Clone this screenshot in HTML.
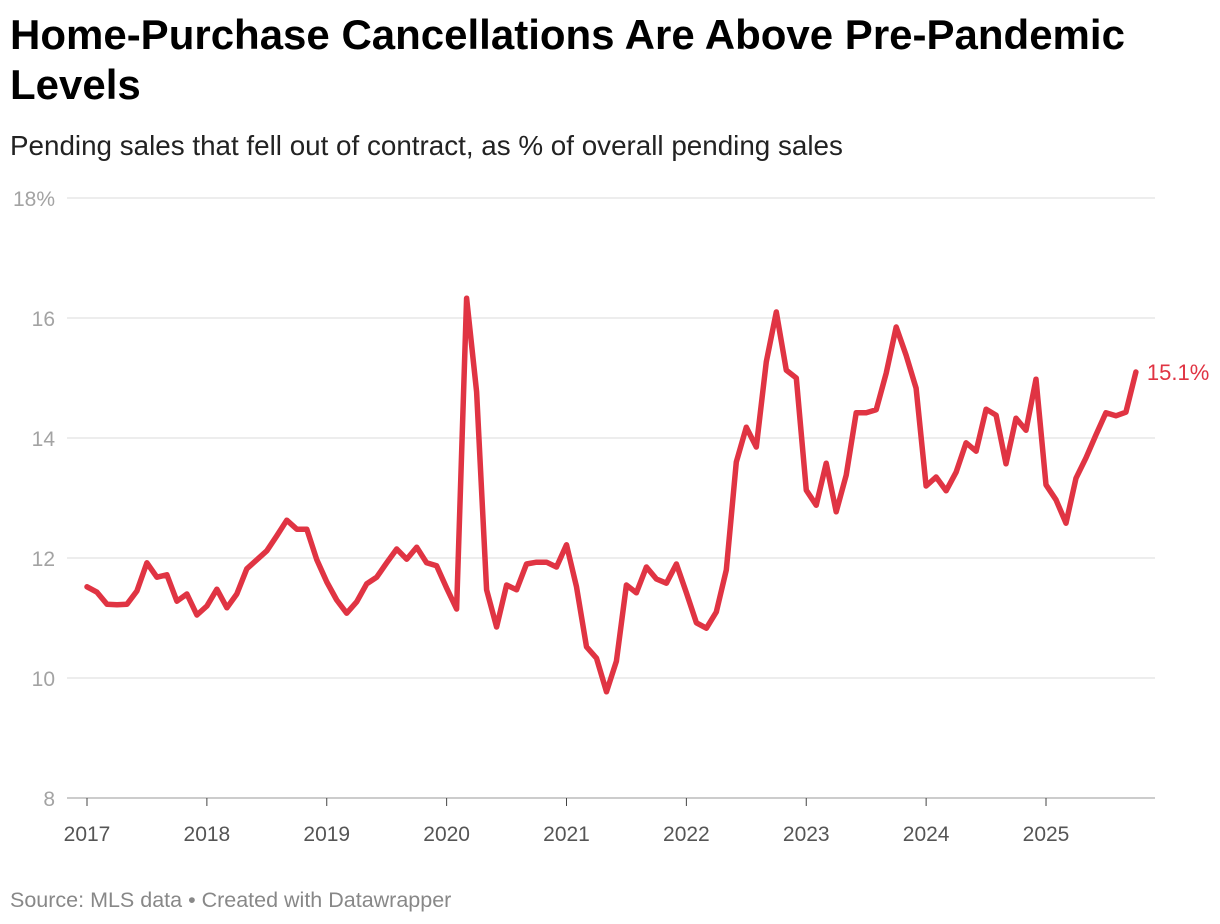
<!DOCTYPE html>
<html><head><meta charset="utf-8">
<style>
body{margin:0;background:#fff;width:1220px;height:924px;overflow:hidden;font-family:"Liberation Sans",sans-serif}
#title{position:absolute;left:10px;top:10px;width:1150px;font-size:42px;font-weight:bold;line-height:50px;color:#000}
#sub{position:absolute;left:10px;top:130px;font-size:27.8px;color:#222}
#src{position:absolute;left:10px;top:888px;font-size:21.5px;color:#888}
svg{position:absolute;left:0;top:0}
</style></head><body>
<div id="title">Home-Purchase Cancellations Are Above Pre-Pandemic Levels</div>
<div id="sub">Pending sales that fell out of contract, as % of overall pending sales</div>
<svg id="chart" width="1220" height="924"></svg>
<div id="src">Source: MLS data • Created with Datawrapper</div>
<script>
const startYear = 2017;
const values = [
11.52,11.43,11.23,11.22,11.23,11.45,11.92,11.68,11.72,11.28,11.4,11.05,
11.2,11.48,11.17,11.4,11.82,11.97,12.12,12.37,12.63,12.48,12.48,11.97,
11.6,11.3,11.08,11.27,11.57,11.68,11.92,12.15,11.98,12.18,11.92,11.87,
11.5,11.15,16.33,14.77,11.47,10.85,11.55,11.47,11.9,11.93,11.93,11.85,
12.22,11.52,10.52,10.33,9.77,10.28,11.55,11.42,11.85,11.65,11.58,11.9,
11.42,10.92,10.83,11.1,11.8,13.6,14.18,13.85,15.27,16.1,15.13,15.0,
13.13,12.88,13.58,12.77,13.38,14.42,14.42,14.47,15.08,15.85,15.38,14.83,
13.2,13.35,13.12,13.43,13.92,13.78,14.48,14.38,13.57,14.33,14.13,14.98,
13.22,12.97,12.58,13.33,13.67,14.05,14.42,14.37,14.43,15.1];
const yTicks = [8,10,12,14,16,18];
const yTickLabels = ["8","10","12","14","16","18%"];
const xYears = [2017,2018,2019,2020,2021,2022,2023,2024,2025];
const endLabel = "15.1%";

const svg=document.getElementById('chart');
const NS='http://www.w3.org/2000/svg';
const y=v=>798-(v-8)*60;
const x=m=>87+m*(959/96);
function el(t,a){const e=document.createElementNS(NS,t);for(const k in a)e.setAttribute(k,a[k]);svg.appendChild(e);return e;}
yTicks.forEach((t,i)=>{
  const g=el('line',{x1:67,x2:1155,y1:y(t),y2:y(t),stroke:i===0?'#bbb':'#e2e2e2','stroke-width':i===0?1.5:1.3});
  
  
  const tx=el('text',{x:55,y:y(t)+8,'text-anchor':'end','font-size':21,fill:'#a3a3a3','font-family':'Liberation Sans, sans-serif'});
  tx.textContent=yTickLabels[i];
  
  
});
xYears.forEach(yr=>{
  const xp=x((yr-startYear)*12);
  const tk=el('line',{x1:xp,x2:xp,y1:798,y2:806,stroke:'#444','stroke-width':1});
  
  
  const tx=el('text',{x:xp,y:841,'text-anchor':'middle','font-size':21,fill:'#555','font-family':'Liberation Sans, sans-serif'});
  tx.textContent=yr;
  
  
});
const pts=values.map((v,i)=>x(i).toFixed(1)+','+y(v).toFixed(1)).join(' ');
const line=el('polyline',{points:pts,fill:'none',stroke:'#e03443','stroke-width':5.5,'stroke-linejoin':'round','stroke-linecap':'round'});


const li=values.length-1;
const lab=el('text',{x:x(li)+11,y:y(values[li])+8,'font-size':22,fill:'#e03443','font-family':'Liberation Sans, sans-serif'});
lab.textContent=endLabel;


</script>
</body></html>
